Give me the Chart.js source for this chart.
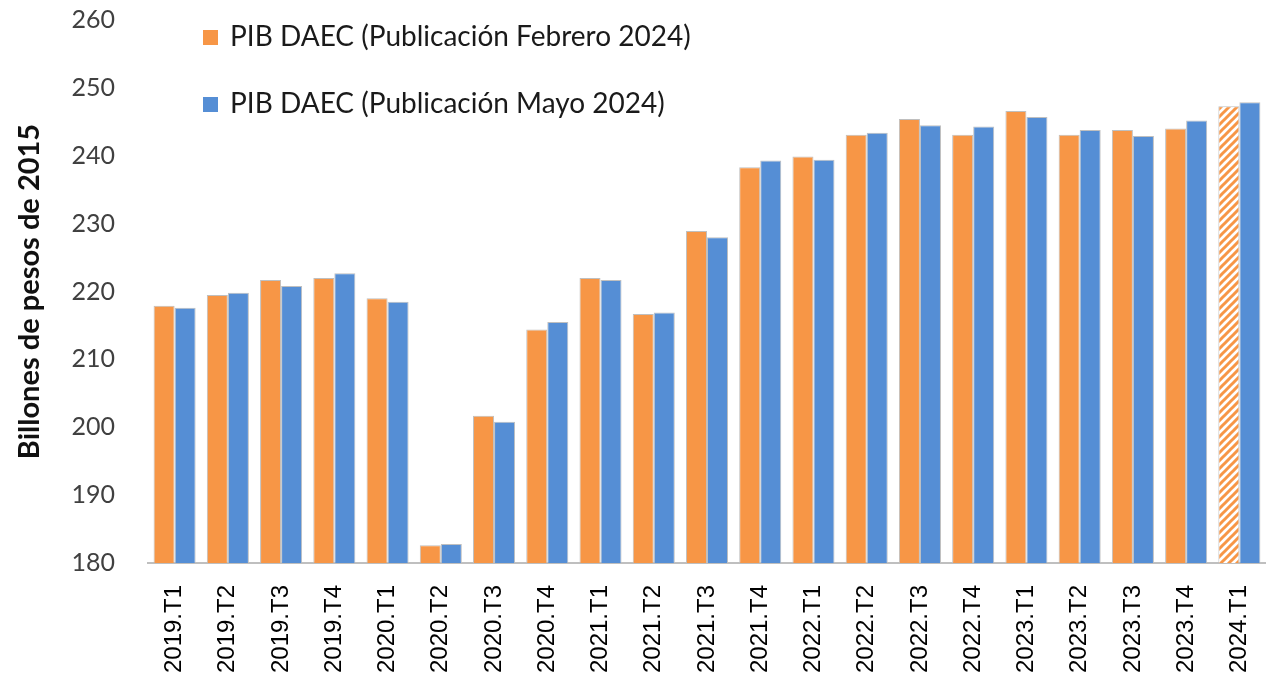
<!DOCTYPE html>
<html lang="es">
<head>
  <meta charset="UTF-8">
  <title>PIB DAEC</title>
  <script src="https://cdn.jsdelivr.net/npm/chart.js"></script>
  <style>
    html, body {
      margin: 0;
      padding: 0;
      background: #fff;
      font-family: Lato, 'Open Sans', sans-serif;
    }

    .chart-container {
      position: relative;
      width: 1266px;
      height: 680px;
    }

    .legend {
      position: absolute;
      left: 203px;
      top: 0;
      color: #1a1a1a;
      font-size: 28px;
    }

    .legend div {
      position: absolute;
      white-space: nowrap;
      line-height: 32px;
    }

    .legend span {
      display: inline-block;
      width: 15px;
      height: 15px;
      margin-right: 12px;
      vertical-align: 1px;
    }
  </style>
</head>
<body>
  <div class="chart-container">
    <canvas id="pibChart"></canvas>
    <div class="legend">
      <div style="top:19px"><span style="background:#F79646"></span>PIB DAEC (Publicación Febrero 2024)</div>
      <div style="top:86px"><span style="background:#558ED5"></span>PIB DAEC (Publicación Mayo 2024)</div>
    </div>
  </div>

<script>
  const quarters = [
    '2019.T1', '2019.T2', '2019.T3', '2019.T4',
    '2020.T1', '2020.T2', '2020.T3', '2020.T4',
    '2021.T1', '2021.T2', '2021.T3', '2021.T4',
    '2022.T1', '2022.T2', '2022.T3', '2022.T4',
    '2023.T1', '2023.T2', '2023.T3', '2023.T4',
    '2024.T1'
  ];

  // Publicación Febrero 2024 (the last quarter is a projection, drawn hatched)
  const pibFebrero = [
    217.9, 219.5, 221.7, 222.0,
    219.0, 182.6, 201.7, 214.4,
    222.0, 216.7, 228.9, 238.3,
    239.9, 243.1, 245.4, 243.1,
    246.6, 243.1, 243.8, 244.0,
    247.3
  ];

  // Publicación Mayo 2024
  const pibMayo = [
    217.6, 219.8, 220.8, 222.7,
    218.5, 182.8, 200.8, 215.5,
    221.7, 216.9, 228.0, 239.3,
    239.4, 243.4, 244.5, 244.3,
    245.7, 243.8, 242.9, 245.2,
    247.9
  ];

  const yTicks = [180, 190, 200, 210, 220, 230, 240, 250, 260];

  const orange = '#F79646';
  const blue = '#558ED5';
  const edge = '#BFBFBF';

  const ctx = document.getElementById('pibChart').getContext('2d');

  // diagonal hatch for the projected quarter
  const tile = document.createElement('canvas');
  tile.width = 8;
  tile.height = 8;
  const t = tile.getContext('2d');
  t.fillStyle = '#fff';
  t.fillRect(0, 0, 8, 8);
  t.strokeStyle = orange;
  t.lineWidth = 3;
  t.beginPath();
  t.moveTo(-2, 10); t.lineTo(10, -2);
  t.moveTo(-6, 6); t.lineTo(6, -6);
  t.moveTo(2, 14); t.lineTo(14, 2);
  t.stroke();
  const hatch = ctx.createPattern(tile, 'repeat');

  const lastIdx = quarters.length - 1;

  new Chart(ctx, {
    type: 'bar',
    data: {
      labels: quarters,
      datasets: [{
        label: 'PIB DAEC (Publicación Febrero 2024)',
        data: pibFebrero,
        backgroundColor: pibFebrero.map((v, i) => i === lastIdx ? hatch : orange),
        borderColor: edge,
        borderWidth: 1,
        categoryPercentage: 0.79,
        barPercentage: 1
      }, {
        label: 'PIB DAEC (Publicación Mayo 2024)',
        data: pibMayo,
        backgroundColor: blue,
        borderColor: edge,
        borderWidth: 1,
        categoryPercentage: 0.79,
        barPercentage: 1
      }]
    },
    options: {
      responsive: true,
      maintainAspectRatio: false,
      animation: false,
      layout: {
        padding: { top: 20, right: 0, left: 0, bottom: 0 }
      },
      plugins: {
        legend: { display: false },
        tooltip: { enabled: false }
      },
      scales: {
        x: {
          grid: { display: false },
          border: { color: edge, width: 2 },
          ticks: {
            color: '#000',
            font: { family: "'Liberation Sans', Arial", size: 24 },
            minRotation: 90,
            maxRotation: 90,
            padding: 14,
            autoSkip: false
          },
          afterFit: scale => {
            scale.height = 117;
            scale.paddingLeft = 0;
            scale.paddingRight = 0;
          }
        },
        y: {
          min: 180,
          max: 260,
          grid: { display: false },
          border: { display: false },
          afterBuildTicks: scale => {
            scale.ticks = yTicks.map(v => ({ value: v }));
          },
          ticks: {
            color: '#404040',
            font: { family: 'Lato', size: 25 },
            padding: 25
          },
          title: {
            display: true,
            text: 'Billones de pesos de 2015',
            color: '#111',
            font: { family: 'Lato', size: 29, weight: 'bold' },
            padding: { top: 12, bottom: 0 }
          },
          afterFit: scale => {
            scale.width = 148;
            scale.paddingTop = 0;
            scale.paddingBottom = 0;
          }
        }
      }
    }
  });
</script>

</body>
</html>
